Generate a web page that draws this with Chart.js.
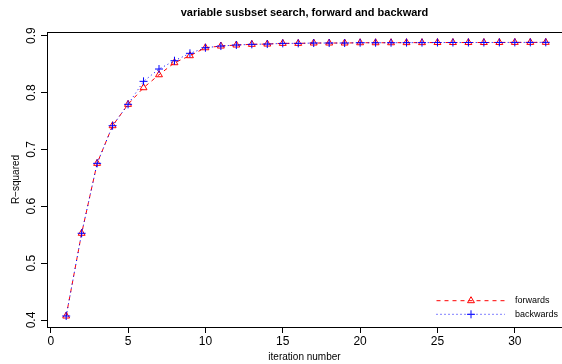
<!DOCTYPE html>
<html><head><meta charset="utf-8">
<script src="https://cdn.jsdelivr.net/npm/chart.js@4"></script>
<style>html,body{margin:0;padding:0;background:#fff;}canvas{display:block;}</style>
</head><body>
<canvas id="c" width="562" height="364"></canvas>
<script>
const iterations = [1,2,3,4,5,6,7,8,9,10,11,12,13,14,15,16,17,18,19,20,21,22,23,24,25,26,27,28,29,30,31,32];
const forwards  = [0.407,0.5525,0.6755,0.7417,0.7793,0.8085,0.8313,0.8525,0.8648,0.8788,0.8818,0.8836,0.8848,0.8853,0.8865,0.8865,0.8871,0.8871,0.8871,0.8876,0.8876,0.8876,0.8878,0.8878,0.888,0.888,0.888,0.888,0.8881,0.8882,0.8882,0.8883];
const backwards = [0.407,0.5525,0.6755,0.7417,0.7793,0.8197,0.8414,0.856,0.869,0.8788,0.8818,0.8836,0.8848,0.8853,0.8865,0.8865,0.8871,0.8871,0.8871,0.8876,0.8876,0.8876,0.8878,0.8878,0.888,0.888,0.888,0.888,0.8881,0.8882,0.8882,0.8883];
const seriesNames = ['forwards','backwards'];
const xTickValues = [0,5,10,15,20,25,30];
const yTickValues = [0.4,0.5,0.6,0.7,0.8,0.9];
const mainTitle = 'variable susbset search, forward and backward';
const xLabel = 'iteration number';
const yLabel = 'R\u2212squared';

const FONT = '"Liberation Sans", Arial, Helvetica, sans-serif';
const toPts = ys => iterations.map((x,i)=>({x:x, y:ys[i]}));

const rLegend = {
  id: 'rLegend',
  afterDraw(chart) {
    const ctx = chart.ctx;
    const rows = [300.7, 314.3];
    const x0 = 436.5, x1 = 505, xm = 471, xt = 515;
    ctx.save();
    chart.data.datasets.forEach((ds, i) => {
      const y = rows[i];
      ctx.strokeStyle = ds.borderColor;
      ctx.lineWidth = 1;
      ctx.setLineDash(ds.borderDash || []);
      ctx.beginPath(); ctx.moveTo(x0, y); ctx.lineTo(x1, y); ctx.stroke();
      ctx.setLineDash([]);
      ctx.fillStyle = 'rgba(0,0,0,0)';
      ctx.strokeStyle = ds.pointBorderColor;
      Chart.helpers.drawPoint(ctx, {pointStyle: ds.pointStyle, radius: ds.pointRadius, borderWidth: 1, rotation: 0}, xm, y);
      ctx.fillStyle = '#000';
      ctx.font = '9px ' + FONT;
      ctx.textBaseline = 'middle';
      ctx.textAlign = 'left';
      ctx.fillText(ds.label, xt, y);
    });
    ctx.restore();
  }
};

new Chart(document.getElementById('c'), {
  type: 'line',
  data: {
    datasets: [
      { label: seriesNames[0], data: toPts(forwards), borderColor: '#FF0000', backgroundColor: 'rgba(0,0,0,0)',
        borderWidth: 1, borderDash: [4,4], pointStyle: 'triangle', pointRadius: 4, pointBorderWidth: 1,
        pointBorderColor: '#FF0000', pointBackgroundColor: 'rgba(0,0,0,0)', fill: false, tension: 0, order: 1 },
      { label: seriesNames[1], data: toPts(backwards), borderColor: '#0000FF', backgroundColor: 'rgba(0,0,0,0)',
        borderWidth: 1, borderDash: [1,3], pointStyle: 'cross', pointRadius: 4, pointBorderWidth: 1,
        pointBorderColor: '#0000FF', pointBackgroundColor: 'rgba(0,0,0,0)', fill: false, tension: 0, order: 0 }
    ]
  },
  options: {
    responsive: false, animation: false, devicePixelRatio: 1,
    layout: { padding: 0, autoPadding: false },
    plugins: { legend: { display: false }, tooltip: { enabled: false }, title: { display: false } },
    scales: {
      x: {
        type: 'linear', position: 'bottom', min: -0.24, max: 33.05,
        afterBuildTicks: s => { s.ticks = xTickValues.map(v => ({value: v})); },
        afterFit: s => { s.height = 37; },
        ticks: { font: {family: FONT, size: 12}, color: '#000', padding: 1, maxRotation: 0, autoSkip: false, callback: v => String(v) },
        grid: { drawOnChartArea: false, drawTicks: true, tickLength: 6, color: '#000', lineWidth: 1 },
        border: { display: true, color: '#000', width: 1 },
        title: { display: true, text: xLabel, color: '#000', font: {family: FONT, size: 10}, padding: {top: 0, bottom: 0.5} }
      },
      x2: {
        type: 'linear', axis: 'x', position: 'top', min: -0.24, max: 33.05,
        afterFit: s => { s.height = 32; },
        ticks: { display: false },
        grid: { display: false, drawTicks: false },
        border: { display: true, color: '#000', width: 1 },
        title: { display: true, text: mainTitle, color: '#000', font: {family: FONT, size: 11, weight: 'bold'}, padding: {top: 6.7, bottom: 0} }
      },
      y: {
        type: 'linear', position: 'left', min: 0.3877, max: 0.9065,
        afterBuildTicks: s => { s.ticks = yTickValues.map(v => ({value: v})); },
        afterFit: s => { s.width = 47; },
        ticks: { font: {family: FONT, size: 12}, color: '#000', padding: 1, minRotation: 90, maxRotation: 90, crossAlign: 'center', autoSkip: false, callback: v => v.toFixed(1) },
        grid: { drawOnChartArea: false, drawTicks: true, tickLength: 6, color: '#000', lineWidth: 1 },
        border: { display: true, color: '#000', width: 1 },
        title: { display: true, text: yLabel, color: '#000', font: {family: FONT, size: 10}, padding: {top: 10, bottom: 0} }
      }
    }
  },
  plugins: [rLegend]
});
</script>
</body></html>
